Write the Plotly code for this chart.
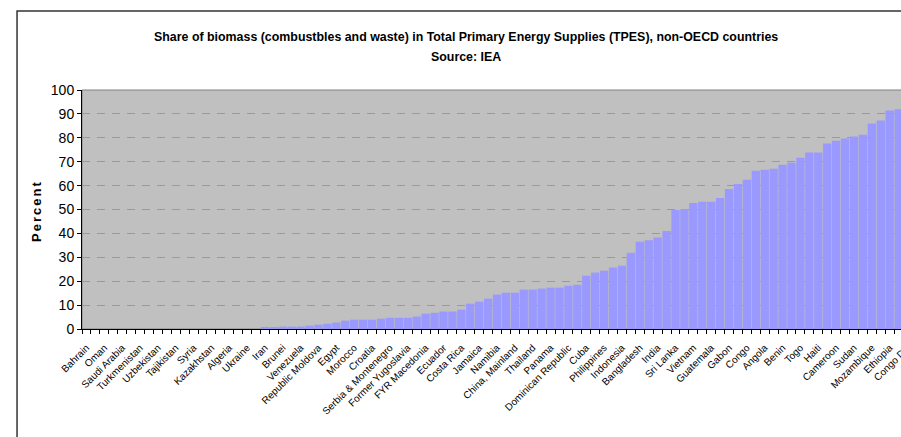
import plotly.graph_objects as go

# Tick labels (every second country is labelled on the axis)
labels = [
    "Bahrain", "Oman", "Saudi Arabia", "Turkmenistan", "Uzbekistan", "Tajikistan",
    "Syria", "Kazakhstan", "Algeria", "Ukraine", "Iran", "Brunei", "Venezuela",
    "Republic Moldova", "Egypt", "Morocco", "Croatia", "Serbia & Montenegro",
    "Former Yugoslavia", "FYR Macedonia", "Ecuador", "Costa Rica", "Jamaica",
    "Namibia", "China, Mainland", "Thailand", "Panama", "Dominican Republic",
    "Cuba", "Philippines", "Indonesia", "Bangladesh", "India", "Sri Lanka",
    "Vietnam", "Guatemala", "Gabon", "Congo", "Angola", "Benin", "Togo", "Haiti",
    "Cameroon", "Sudan", "Mozambique", "Ethiopia", "Congo DR",
]

# Share of biomass in TPES (%), one value per country, ascending
values = [
    0, 0, 0, 0, 0, 0, 0, 0, 0, 0,
    0, 0, 0, 0, 0, 0, 0, 0, 0, 0,
    0.5, 0.5, 1.0, 1.0, 1.0, 1.4, 1.8, 2.2, 2.7, 3.5,
    3.9, 3.9, 3.9, 4.3, 4.7, 4.7, 4.7, 5.2, 6.4, 6.8,
    7.3, 7.3, 8.1, 10.6, 11.4, 12.7, 14.4, 15.2, 15.2, 16.5,
    16.5, 16.9, 17.3, 17.3, 18.1, 18.5, 22.3, 23.6, 24.4, 25.7,
    26.5, 31.9, 36.5, 37.1, 38.3, 41.0, 49.8, 50.2, 52.7, 53.2,
    53.2, 54.8, 58.6, 60.7, 62.4, 66.2, 66.6, 67.0, 68.7, 69.6,
    71.7, 73.8, 73.8, 77.6, 78.8, 79.7, 80.5, 81.3, 86.0, 87.2,
    91.4, 91.9, 93.0,
]

title_line1 = "Share of biomass (combustbles and waste) in Total Primary Energy Supplies (TPES), non-OECD countries"
title_line2 = "Source: IEA"
y_title = "Percent"

FONT = "Liberation Sans, Arial, sans-serif"
n = len(values)
x = list(range(n))

fig = go.Figure(
    go.Bar(
        x=x, y=values,
        marker=dict(color="#9999FF", line=dict(width=0)),
        hoverinfo="skip",
    )
)

W, H = 925, 437
L, R, T, B = 82, 12.5, 90, 107.7
pw = W - L - R
ph = H - T - B

def px_x(px):
    return (px - L) / pw

def px_y(py):
    return (H - B - py) / ph

fig.update_layout(
    width=W, height=H,
    margin=dict(l=L, r=R, t=T, b=B, pad=0),
    paper_bgcolor="white",
    plot_bgcolor="#C0C0C0",
    bargap=0.07,
    showlegend=False,
    font=dict(family=FONT, color="black"),
    xaxis=dict(
        range=[-0.5, n - 0.5],
        tickmode="array",
        tickvals=x[::2],
        ticktext=labels,
        tickangle=-45,
        ticks="",
        ticklabelstandoff=8,
        tickfont=dict(size=10, family=FONT, color="black"),
        showline=True, linecolor="black", linewidth=1,
        showgrid=False, zeroline=False,
        minor=dict(tickmode="linear", tick0=-0.5, dtick=1, ticks="outside",
                   ticklen=4, tickcolor="black", tickwidth=1, showgrid=False),
        fixedrange=True,
    ),
    yaxis=dict(
        range=[0, 100], tick0=0, dtick=10,
        ticks="outside", ticklen=4, tickcolor="black", tickwidth=1,
        showline=True, linecolor="black", linewidth=1,
        showgrid=True, gridcolor="#9a9a9a", gridwidth=1, griddash="8px,7px",
        zeroline=False,
        tickfont=dict(size=14, family=FONT, color="black"),
        fixedrange=True,
    ),
    annotations=[
        dict(text="<b>" + title_line1 + "</b>", xref="paper", yref="paper",
             x=px_x(466), y=px_y(37), xanchor="center", yanchor="middle",
             showarrow=False, font=dict(size=12.4, family=FONT, color="black")),
        dict(text="<b>" + title_line2 + "</b>", xref="paper", yref="paper",
             x=px_x(466), y=px_y(57), xanchor="center", yanchor="middle",
             showarrow=False, font=dict(size=12.4, family=FONT, color="black")),
        dict(text="<b>" + y_title + "</b>", xref="paper", yref="paper",
             x=px_x(37), y=px_y(211), xanchor="center", yanchor="middle",
             textangle=-90, showarrow=False,
             font=dict(size=13, family=FONT, color="black")),
    ],
    shapes=[
        # plot-area border
        dict(type="rect", xref="paper", yref="paper", x0=0, x1=1, y0=0, y1=1,
             line=dict(color="#808080", width=1), layer="below"),
        # outer chart frame
        dict(type="rect", xref="paper", yref="paper",
             x0=px_x(17), x1=px_x(923), y0=px_y(445), y1=px_y(11),
             line=dict(color="#333333", width=1.5)),
    ],
)

post = ("document.body.style.margin='0';"
        "document.body.style.overflow='hidden';"
        "document.documentElement.style.overflow='hidden';"
        "document.querySelectorAll('.annotation-text').forEach(function(t){"
        "if(t.textContent==='Percent'){t.style.letterSpacing='2px';}});")

fig.write_html("out.html", post_script=post, config=dict(displayModeBar=False))
